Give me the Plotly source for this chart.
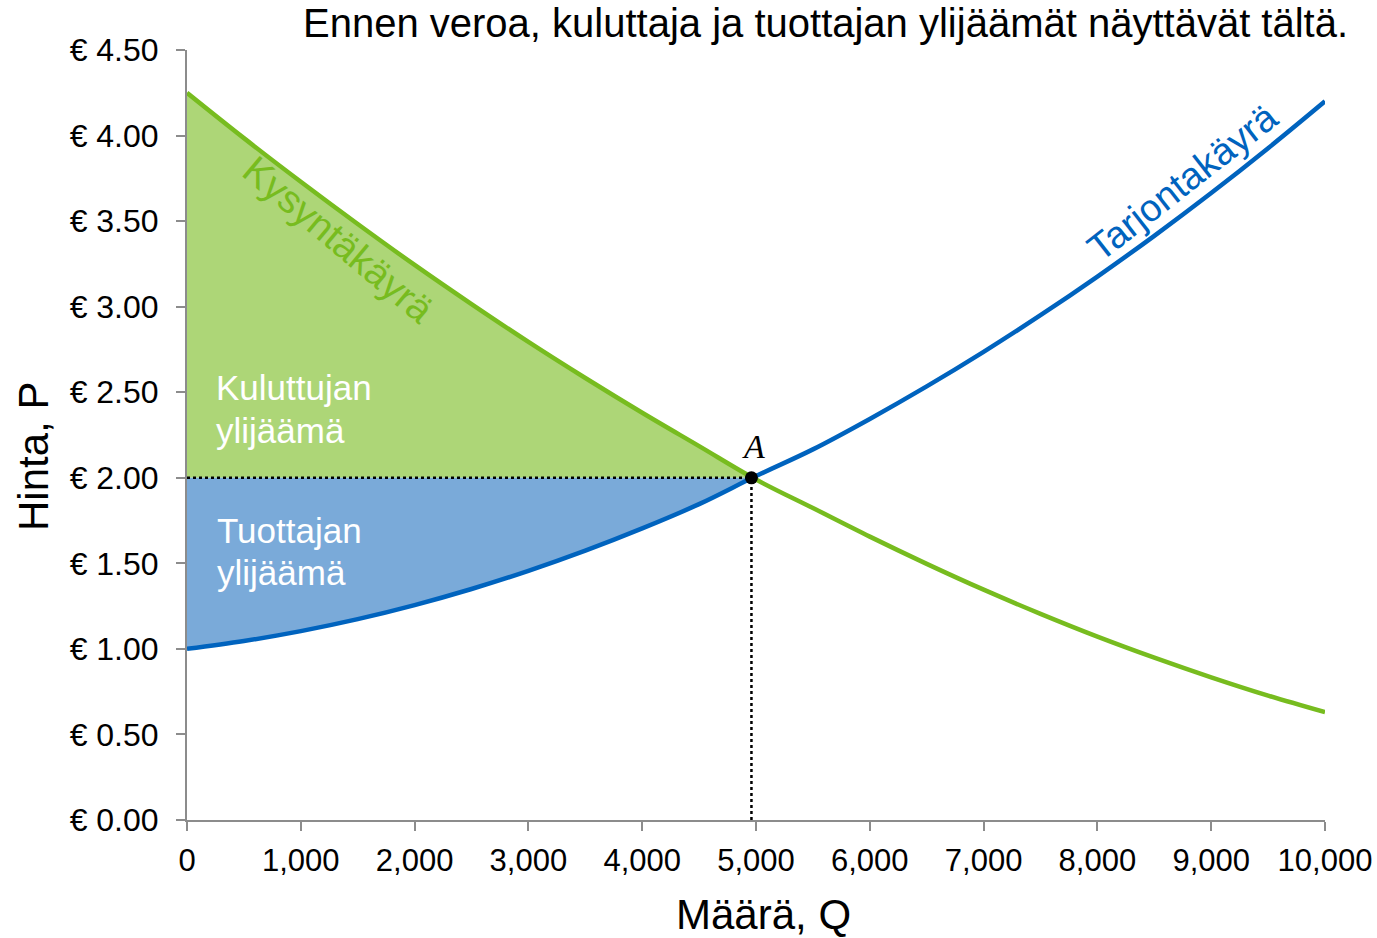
import plotly.graph_objects as go

# ---- data ----
quantity = [0, 500, 1000, 1500, 2000, 2500, 3000, 3500, 4000, 4500, 5000,
            5500, 6000, 6500, 7000, 7500, 8000, 8500, 9000, 9500, 10000]
demand_price = [4.25, 3.985, 3.73, 3.483, 3.244, 3.015, 2.794, 2.583, 2.38, 2.185, 1.99,
                1.823, 1.656, 1.497, 1.346, 1.205, 1.072, 0.949, 0.834, 0.727, 0.63]
supply_price = [1.00, 1.046, 1.104, 1.174, 1.256, 1.35, 1.456, 1.574, 1.704, 1.846, 2.01,
                2.166, 2.344, 2.534, 2.736, 2.95, 3.176, 3.414, 3.664, 3.926, 4.20]
eq_quantity = 4960
eq_price = 2.00

y_tickvals = [0, 0.5, 1.0, 1.5, 2.0, 2.5, 3.0, 3.5, 4.0, 4.5]
y_ticktext = ["€ 0.00", "€ 0.50", "€ 1.00", "€ 1.50", "€ 2.00", "€ 2.50",
              "€ 3.00", "€ 3.50", "€ 4.00", "€ 4.50"]
x_tickvals = [0, 1000, 2000, 3000, 4000, 5000, 6000, 7000, 8000, 9000, 10000]

title_text = "Ennen veroa, kuluttaja ja tuottajan ylijäämät näyttävät tältä."
x_title = "Määrä, Q"
y_title = "Hinta, P"
cs_lines = ["Kuluttujan", "ylijäämä"]
ps_lines = ["Tuottajan", "ylijäämä"]

GREEN_LINE = "#77BC1F"
GREEN_FILL = "#ADD677"
BLUE_LINE = "#0063BE"
BLUE_FILL = "#7AAAD9"
FONT = "Liberation Sans, Arial, sans-serif"

# surplus polygons built from the curves
cs_x = [q for q in quantity if q < eq_quantity] + [eq_quantity, 0]
cs_y = [p for q, p in zip(quantity, demand_price) if q < eq_quantity] + [eq_price, eq_price]
ps_x = [q for q in quantity if q < eq_quantity] + [eq_quantity, 0]
ps_y = [p for q, p in zip(quantity, supply_price) if q < eq_quantity] + [eq_price, eq_price]

fig = go.Figure()
fig.add_trace(go.Scatter(x=cs_x, y=cs_y, fill="toself", fillcolor=GREEN_FILL,
                         mode="lines", line=dict(width=0), hoverinfo="skip"))
fig.add_trace(go.Scatter(x=ps_x, y=ps_y, fill="toself", fillcolor=BLUE_FILL,
                         mode="lines", line=dict(width=0), hoverinfo="skip"))
fig.add_trace(go.Scatter(x=quantity, y=demand_price, mode="lines",
                         line=dict(color=GREEN_LINE, width=4.5, shape="spline")))
fig.add_trace(go.Scatter(x=quantity, y=supply_price, mode="lines",
                         line=dict(color=BLUE_LINE, width=4.5, shape="spline")))
fig.add_trace(go.Scatter(x=[0, eq_quantity], y=[eq_price, eq_price], mode="lines",
                         line=dict(color="black", width=2.5, dash="dot")))
fig.add_trace(go.Scatter(x=[eq_quantity, eq_quantity], y=[0, eq_price], mode="lines",
                         line=dict(color="black", width=2.5, dash="dot")))
fig.add_trace(go.Scatter(x=[eq_quantity], y=[eq_price], mode="markers",
                         marker=dict(color="black", size=13)))

ann = []
ann.append(dict(x=eq_quantity, y=eq_price, xref="x", yref="y", text="<i>A</i>",
                showarrow=False, yshift=31, xshift=2,
                font=dict(family="Liberation Serif, Times New Roman, serif", size=34, color="black")))
for txt, yv in zip(cs_lines, [2.525, 2.279]):
    ann.append(dict(x=235, y=yv, xref="x", yref="y", text=txt,
                    showarrow=False, xanchor="left",
                    font=dict(family=FONT, size=35, color="white")))
for txt, yv in zip(ps_lines, [1.689, 1.444]):
    ann.append(dict(x=250, y=yv, xref="x", yref="y", text=txt,
                    showarrow=False, xanchor="left",
                    font=dict(family=FONT, size=35, color="white")))
ann.append(dict(x=1330, y=3.39, xref="x", yref="y", text="Kysyntäkäyrä",
                showarrow=False, textangle=40,
                font=dict(family=FONT, size=39, color=GREEN_LINE)))
ann.append(dict(x=8750, y=3.73, xref="x", yref="y", text="Tarjontakäyrä",
                showarrow=False, textangle=-38,
                font=dict(family=FONT, size=38, color=BLUE_LINE)))
ann.append(dict(x=(763 - 187) / 1138, y=(820 - 914) / 770, xref="paper", yref="paper", text=x_title,
                showarrow=False, xanchor="center", yanchor="middle",
                font=dict(family=FONT, size=42, color="black")))
ann.append(dict(x=(33 - 187) / 1138, y=(820 - 457) / 770, xref="paper", yref="paper", text=y_title,
                showarrow=False, textangle=-90, xanchor="center", yanchor="middle",
                font=dict(family=FONT, size=42, color="black")))
ann.append(dict(x=(1350 - 187) / 1138, y=(820 - 23) / 770, xref="paper", yref="paper",
                text=title_text, showarrow=False, xanchor="right", yanchor="middle",
                font=dict(family=FONT, size=40, color="black")))

fig.update_layout(
    width=1377, height=938,
    margin=dict(l=187, r=52, t=50, b=118, autoexpand=False),
    paper_bgcolor="white", plot_bgcolor="white",
    showlegend=False,
    annotations=ann,
    font=dict(family=FONT, color="black"),
)
fig.update_xaxes(range=[0, 10000], tickvals=x_tickvals, tickformat=",",
                 showgrid=False, zeroline=False, showline=True, linecolor="#8C8C8C", linewidth=2,
                 ticks="outside", ticklen=9, tickwidth=2, tickcolor="#8C8C8C",
                 ticklabeloverflow="allow", automargin=False,
                 tickfont=dict(family=FONT, size=31, color="black"), ticklabelstandoff=3)
fig.update_yaxes(range=[0, 4.5], tickvals=y_tickvals, ticktext=y_ticktext,
                 showgrid=False, zeroline=False, showline=True, linecolor="#8C8C8C", linewidth=2,
                 ticks="outside", ticklen=9, tickwidth=2, tickcolor="#8C8C8C",
                 ticklabeloverflow="allow", automargin=False,
                 tickfont=dict(family=FONT, size=32, color="black"), ticklabelstandoff=11)

fig.write_html("out.html",
               config={"displayModeBar": False},
               post_script="document.body.style.margin='0';document.body.style.overflow='hidden';")
